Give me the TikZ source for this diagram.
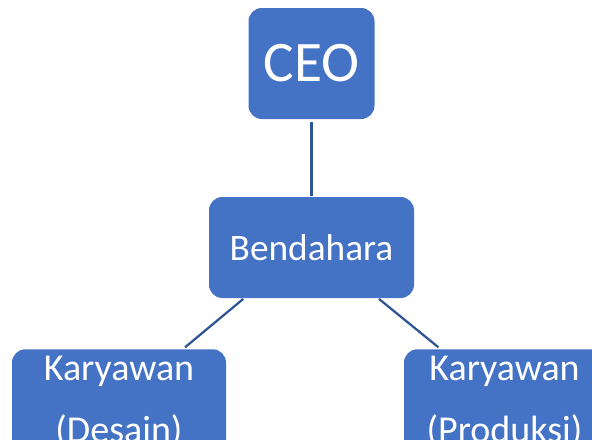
\documentclass[tikz,border=0pt]{standalone}
\usepackage{fontspec}
\setmainfont{Carlito}
\usepackage{tikz}
\usetikzlibrary{positioning}
\usepackage{xcolor}
\definecolor{boxblue}{HTML}{4472C4}
\definecolor{lineblue}{HTML}{2F5597}

\begin{document}
\begin{tikzpicture}[x=0.75pt, y=-0.75pt,
  box/.style = {fill=boxblue, text=white, rounded corners=10pt, inner sep=0pt},
  staff/.style = {box, anchor=north, align=center, inner ysep=5.5pt,
    font=\fontsize{28.5}{46.5}\selectfont},
  link/.style = {draw=lineblue, line width=1.7pt}]
\useasboundingbox (0,0) rectangle (592,439);

\node[box, minimum width=94.5pt, minimum height=83.25pt, font=\fontsize{43}{50}\selectfont] (ceo) at (311.5,63.5) {CEO};
\node[box, minimum width=153.75pt, minimum height=75.75pt, font=\fontsize{28}{33}\selectfont] (bend) at (311.5,247.5) {Bendahara};
\node[staff, minimum width=160.5pt] (desain) at (119,349) {Karyawan\\(Desain)};
\node[staff, minimum width=150.75pt] (produksi) at (504.5,349) {Karyawan\\(Produksi)};

\draw[link, shorten <=2pt, shorten >=0.75pt] (ceo) -- (bend);
\draw[link, shorten <=0.75pt, shorten >=2pt] ([xshift=-50.6pt]bend.south) -- ([xshift=48pt]desain.north);
\draw[link, shorten <=0.75pt, shorten >=2pt] ([xshift=50pt]bend.south) -- ([xshift=-48pt]produksi.north);
\end{tikzpicture}
\end{document}
